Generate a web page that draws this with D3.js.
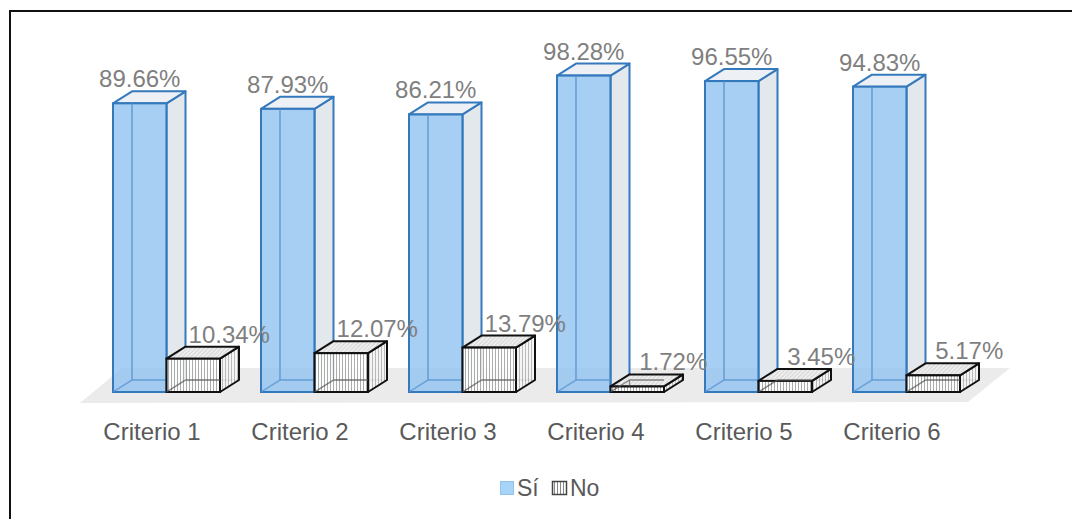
<!DOCTYPE html>
<html>
<head>
<meta charset="utf-8">
<script src="https://cdn.jsdelivr.net/npm/d3@7/dist/d3.min.js"></script>
<style>
  html, body { margin: 0; padding: 0; background: #fff; }
  svg { display: block; font-family: "Liberation Sans", Arial, sans-serif; }
</style>
</head>
<body>
<svg id="chart" width="1072" height="519"></svg>
<script>
// Criteria evaluated and share of "Sí" / "No" answers (percent)
const categories = ["Criterio 1", "Criterio 2", "Criterio 3", "Criterio 4", "Criterio 5", "Criterio 6"];
const seriesNames = ["Sí", "No"];
const siValues = [89.66, 87.93, 86.21, 98.28, 96.55, 94.83];
const noValues = [10.34, 12.07, 13.79, 1.72, 3.45, 5.17];

const svg = d3.select("#chart");
const W = 1072, H = 519;

// 3D depth offset of the columns
const DX = 19, DY = -12;

const x = d3.scaleBand().domain(categories).range([80, 968]).padding(0);
const xSub = d3.scaleBand().domain(seriesNames).range([33, 140]).padding(0);
const y = d3.scaleLinear().domain([0, 100]).range([392, 70]);

const defs = svg.append("defs");
// vertical hatch for the "No" columns
const vp = defs.append("pattern").attr("id", "vhatch").attr("patternUnits", "userSpaceOnUse")
  .attr("width", 3).attr("height", 6);
vp.append("rect").attr("width", 3).attr("height", 6).attr("fill", "#ffffff");
vp.append("rect").attr("x", 0).attr("width", 1).attr("height", 6).attr("fill", "#a0a0a0");
// lighter hatch for the side faces
const sp = defs.append("pattern").attr("id", "shatch").attr("patternUnits", "userSpaceOnUse")
  .attr("width", 3).attr("height", 6);
sp.append("rect").attr("width", 3).attr("height", 6).attr("fill", "#f4f4f4");
sp.append("rect").attr("x", 0).attr("width", 1).attr("height", 6).attr("fill", "#b4b4b4");
// fine diagonal hatch for the top face of "No" columns
const dp = defs.append("pattern").attr("id", "dhatch").attr("patternUnits", "userSpaceOnUse")
  .attr("width", 3).attr("height", 3).attr("patternTransform", "rotate(45)");
dp.append("rect").attr("width", 3).attr("height", 3).attr("fill", "#eeeeee");
dp.append("rect").attr("width", 1).attr("height", 3).attr("fill", "#d6d6d6");
// legend marker hatch
const lp = defs.append("pattern").attr("id", "lhatch").attr("patternUnits", "userSpaceOnUse")
  .attr("width", 3).attr("height", 14);
lp.append("rect").attr("width", 3).attr("height", 14).attr("fill", "#ffffff");
lp.append("rect").attr("width", 1).attr("height", 14).attr("fill", "#888");

// outer frame (top and left edges)
svg.append("line").attr("x1", 9).attr("y1", 11).attr("x2", W).attr("y2", 11)
  .attr("stroke", "#111").attr("stroke-width", 2);
svg.append("line").attr("x1", 10).attr("y1", 10).attr("x2", 10).attr("y2", H)
  .attr("stroke", "#111").attr("stroke-width", 2);

// floor
const floorFront = y(0) + 11, floorBack = y(0) - 24;
svg.append("path")
  .attr("d", `M${x.range()[0]},${floorFront} L${x.range()[1]},${floorFront - 1} L${x.range()[1] + 42},${floorBack} L${x.range()[0] + 42},${floorBack} Z`)
  .attr("fill", "#ebebeb");

const styles = {
  "Sí": { front: "rgba(145,194,240,0.8)", side: "#e3e8ed", top: "#edf1f5", stroke: "#3579bd", inner: "#5b95d0", width: 2 },
  "No": { front: "url(#vhatch)", side: "url(#shatch)", top: "url(#dhatch)", stroke: "#111111", inner: "#555555", width: 2 }
};

function drawColumn(g, x0, w, v, s) {
  const yb = y(0), yt = y(v);
  const x1 = x0 + w;
  const st = styles[s];
  // hidden back edges show through the translucent faces
  g.append("path")
    .attr("d", `M${x0 + DX},${yb + DY} L${x0 + DX},${yt + DY} M${x0 + DX},${yb + DY} L${x1 + DX},${yb + DY} M${x0},${yb} L${x0 + DX},${yb + DY}`)
    .attr("fill", "none").attr("stroke", st.inner).attr("stroke-width", 1.5);
  // right side
  g.append("path")
    .attr("d", `M${x1},${yb} L${x1 + DX},${yb + DY} L${x1 + DX},${yt + DY} L${x1},${yt} Z`)
    .attr("fill", st.side).attr("fill-opacity", s === "Sí" ? 1 : 0.9)
    .attr("stroke", st.stroke).attr("stroke-width", st.width).attr("stroke-linejoin", "round");
  // top
  g.append("path")
    .attr("d", `M${x0},${yt} L${x0 + DX},${yt + DY} L${x1 + DX},${yt + DY} L${x1},${yt} Z`)
    .attr("fill", st.top)
    .attr("stroke", st.stroke).attr("stroke-width", st.width).attr("stroke-linejoin", "round");
  // front
  g.append("rect")
    .attr("x", x0).attr("y", yt).attr("width", w).attr("height", yb - yt)
    .attr("fill", st.front).attr("fill-opacity", s === "No" ? 0.85 : 1)
    .attr("stroke", st.stroke).attr("stroke-width", st.width);
  // redraw the hidden edges faintly on top of the front face
  g.append("path")
    .attr("d", `M${x0 + DX},${Math.max(yt, yb + DY)} L${x0 + DX},${yb + DY} L${x1},${yb + DY} M${x0},${yb} L${x0 + DX},${yb + DY}`)
    .attr("fill", "none").attr("stroke", st.inner).attr("stroke-width", 1.3).attr("stroke-opacity", 0.7);
  if (s === "Sí") {
    g.append("line")
      .attr("x1", x0 + DX).attr("y1", yt).attr("x2", x0 + DX).attr("y2", yb + DY)
      .attr("stroke", st.inner).attr("stroke-width", 1.3).attr("stroke-opacity", 0.8);
  }
}

const valuesBySeries = { "Sí": siValues, "No": noValues };

categories.forEach((c, i) => {
  const g = svg.append("g");
  seriesNames.forEach(s => {
    const v = valuesBySeries[s][i];
    const x0 = x(c) + xSub(s);
    drawColumn(g, x0, xSub.bandwidth(), v, s);
  });
});

// data labels
categories.forEach((c, i) => {
  seriesNames.forEach(s => {
    const v = valuesBySeries[s][i];
    const cx = x(c) + xSub(s) + xSub.bandwidth() / 2 + (s === "No" ? 36 : 0);
    svg.append("text")
      .attr("x", cx).attr("y", y(v) - 16)
      .attr("text-anchor", "middle")
      .attr("font-size", 24).attr("fill", "#7f7f7f")
      .text(v.toFixed(2) + "%");
  });
});

// category axis labels
const axis = d3.axisBottom(x).tickSize(0).tickPadding(0);
const ax = svg.append("g").attr("transform", `translate(-2, ${y(0) + 48})`).call(axis);
ax.select(".domain").remove();
ax.selectAll("text").attr("font-size", 24).attr("fill", "#595959")
  .attr("font-family", "Liberation Sans, Arial, sans-serif").attr("dy", 0);

// legend
const legend = svg.append("g").attr("transform", "translate(500, 481)");
legend.append("rect").attr("x", 0.5).attr("y", 0.5).attr("width", 13).attr("height", 13)
  .attr("fill", "#a9d3f7").attr("stroke", "#8fc3ee");
legend.append("text").attr("x", 17).attr("y", 15).attr("font-size", 23).attr("fill", "#595959").text("Sí");
legend.append("rect").attr("x", 52.5).attr("y", 0.5).attr("width", 14).attr("height", 13)
  .attr("fill", "url(#lhatch)").attr("stroke", "#444").attr("stroke-width", 1.5);
legend.append("text").attr("x", 70).attr("y", 15).attr("font-size", 23).attr("fill", "#595959").text("No");
</script>
</body>
</html>
